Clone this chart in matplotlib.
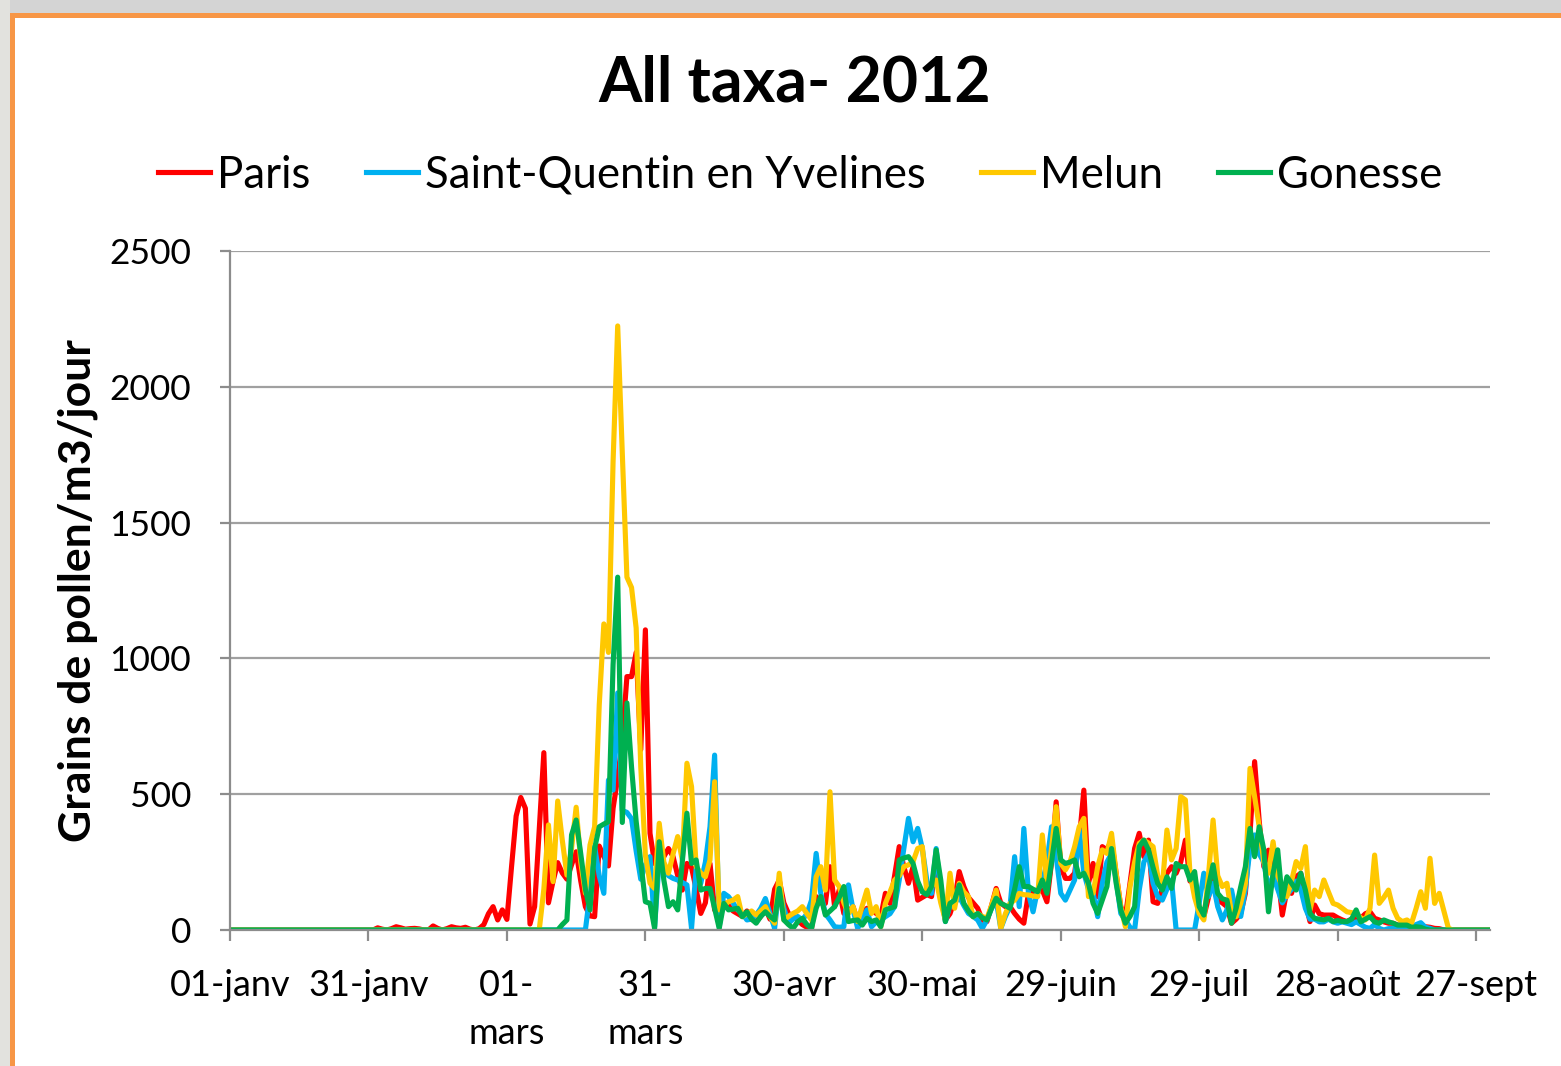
import numpy as np
import matplotlib
matplotlib.use("Agg")
import matplotlib.pyplot as plt
from matplotlib.patches import Rectangle

# ========== DATA (daily counts, 01-janv .. 30-sept 2012) ==========

paris = ([0] * 32
         + [8, 3, 0, 5, 12, 8, 3, 5, 6, 4, 0, 0, 15, 6, 0, 5, 12, 8, 6, 10, 3, 0, 5, 20]
         + [60, 86, 37, 74, 39, 233, 420, 488, 448, 22]
         + [86, 370, 653, 100, 180, 248, 210, 187, 240, 288]
         + [180, 86, 52, 49, 309, 270, 236, 448, 560, 700]
         + [933, 933, 1022, 664, 1105, 356, 245, 233, 270, 300]
         + [270, 200, 147, 245, 230, 150, 61, 100, 245, 74]
         + [130, 100, 90, 70, 60, 50, 70, 40, 30, 50, 80, 40, 150]
         + [184, 100, 61, 50, 37, 20, 10, 6, 123, 100, 98, 233]
         + [86, 147, 61, 70, 86, 31, 60, 80, 74, 61, 49, 135, 98, 200, 307, 233, 172, 233]
         + [110, 120, 130, 123, 258, 130, 37, 60, 110, 215, 160, 120]
         + [100, 80, 37, 31, 90, 153, 100, 86, 86, 61, 40, 25, 135, 135, 140, 147, 104]
         + [250, 472, 233, 190, 190, 209, 331, 515, 172, 245, 123, 307, 295]
         + [331, 209, 86, 49, 172, 300, 356, 270, 331, 104, 98, 150, 209, 233, 209, 250, 331, 180, 172]
         + [80, 49, 120, 200, 110, 100, 86, 25, 40, 61, 135, 356, 620, 400, 233, 294, 260, 209, 55, 147,
            135, 196, 209, 100]
         + [31, 92, 60, 55, 55, 55, 45, 37, 31, 40, 43, 43, 60, 67, 43, 37, 30, 25, 25, 18, 18, 18, 12,
            12, 12, 12, 10, 6, 5]
         + [0] * 11)

saint_quentin = ([0] * 78
                 + [135, 307, 200, 135, 552, 515, 873, 440, 433, 410, 291]
                 + [187, 240, 270, 12, 258, 230, 200, 190, 184, 175, 166, 6, 227, 172, 250, 380, 644, 12]
                 + [135, 123, 100, 74, 60, 37, 40, 55, 80, 116, 60, 6]
                 + [160, 80, 25, 40, 50, 37, 60, 110, 282, 135, 60, 37, 12, 10, 12, 166, 74, 6, 40, 74,
                    12, 30, 37, 49, 60, 86, 184, 300, 411, 325, 374, 300, 180, 135, 300]
                 + [135, 31, 92, 98, 123, 90, 61, 50, 37, 6, 37, 80, 110, 6, 50, 86, 270, 86, 374, 135,
                    67, 150, 172, 250, 380, 270]
                 + [135, 110, 147, 184, 368, 209, 150, 135, 49, 172, 250, 282, 184, 61, 37, 10, 0, 147,
                    250, 282, 172, 123, 110, 150, 184]
                 + [0, 0, 0, 0, 0]
                 + [100, 209, 123, 172, 86, 37, 74, 147]
                 + [60, 50, 150, 300, 350, 280, 250, 150, 200, 150, 100, 130, 150, 180, 150, 80, 40, 40,
                    30, 30, 40, 30, 25, 30, 25, 20, 30, 20, 10, 6, 20, 6, 0, 5, 6, 10, 6, 6, 10, 20, 27,
                    10, 6]
                 + [0] * 13)

melun = ([0] * 68
         + [150, 387, 178, 475, 330, 202, 300, 452, 250, 135, 313, 380]
         + [828, 1127, 1022, 1724, 2224, 1754, 1299, 1261, 1112, 600, 276, 172, 153]
         + [393, 250, 209, 280, 344, 258, 614, 528, 233, 210, 196, 258, 546, 74, 90, 104, 110, 123,
            49, 60, 70, 55, 70, 86, 50, 25]
         + [209, 37, 50, 61, 70, 86, 60, 37, 196, 233, 147, 509, 184, 160, 100, 61, 86, 31, 90, 147,
            61, 86, 12, 98, 140, 184, 200, 233, 240, 252]
         + [300, 307, 135, 160, 184, 100, 37, 209, 80, 172, 140, 123, 49, 61, 50, 43, 90, 147, 6, 60,
            98, 110, 135, 130, 129, 125, 123, 350, 172, 300, 454, 245, 221, 250, 307, 380]
         + [411, 123, 135, 233, 295, 282, 356, 209, 86, 12, 160, 250, 319, 331, 320, 307, 200, 160,
            368, 258, 300, 491, 479, 209, 120, 61, 37, 200, 405, 200]
         + [160, 172, 61, 49, 100, 172, 595, 491, 380, 250, 209, 325, 200, 160, 123, 180, 252, 227,
            307, 74, 147, 123, 184, 140, 98]
         + [92, 80, 67, 64, 61, 45, 37, 80, 276, 98, 120, 147, 80, 43, 31, 37, 25, 80, 141, 80, 264,
            98, 135, 70, 6]
         + [0] * 9)

gonesse = ([0] * 72
           + [20, 37, 350, 405, 280, 150, 74, 300, 380, 390, 399, 977, 1299, 396, 836, 600]
           + [400, 250, 104, 98, 6, 325, 184, 86, 104, 74, 250, 430, 245, 258, 147, 153, 153, 80, 6,
              98, 74, 77, 80, 49, 67, 40, 25, 50, 67, 50, 37, 153, 37, 20, 6]
           + [30, 43, 20, 6, 80, 123, 55, 70, 86, 120, 160, 31, 35, 37, 18, 43, 31, 37, 12, 74, 80,
              86, 258, 265, 270, 245, 180, 140, 130, 160]
           + [295, 184, 31, 98, 110, 166, 98, 70, 49, 61, 45, 37, 80, 117, 98, 90, 80, 150, 233, 160,
              160, 150, 141, 184, 135, 250, 374, 258, 245, 250, 258, 196]
           + [209, 172, 98, 61, 110, 160, 300, 172, 74, 25, 50, 86, 307, 331, 295, 230, 172, 147, 196,
              153, 245, 233, 233, 184, 215, 86, 55, 160, 240, 135]
           + [115, 110, 25, 80, 160, 233, 374, 270, 380, 295, 67, 209, 295, 110, 196, 172, 147, 209,
              147, 61, 43, 40, 37, 43, 31, 35, 31, 31, 40, 74, 30, 40, 49, 30, 25, 37, 30, 25, 18, 18,
              18, 10, 12, 10, 3]
           + [0] * 14)

series_names  = ["Paris", "Saint-Quentin en Yvelines", "Melun", "Gonesse"]
series_colors = ["#FF0000", "#00B0F0", "#FFC800", "#00B050"]

tick_days   = [0, 30, 60, 90, 120, 150, 180, 210, 240, 270]
tick_labels = ["01-janv", "31-janv", "01-\nmars", "31-\nmars", "30-avr",
               "30-mai", "29-juin", "29-juil", "28-août", "27-sept"]
y_ticks = [0, 500, 1000, 1500, 2000, 2500]

# ========== FIGURE ==========

W, H = 1561, 1066
plt.rcParams["font.family"] = ["Lato", "DejaVu Sans"]

fig = plt.figure(figsize=(W / 100, H / 100), dpi=100, facecolor="white")

# gray slide background strips and orange frame
fig.add_artist(Rectangle((0, 1 - 13 / H), 1, 13 / H, transform=fig.transFigure,
                         fc="#D4D4D4", ec="none"))
fig.add_artist(Rectangle((0, 0), 10 / W, 1, transform=fig.transFigure,
                         fc="#E2E2DE", ec="none"))
fig.add_artist(Rectangle((10 / W, 0), 5 / W, 1 - 13 / H, transform=fig.transFigure,
                         fc="#F79646", ec="none"))
fig.add_artist(Rectangle((10 / W, 1 - 18 / H), 1, 5 / H, transform=fig.transFigure,
                         fc="#F79646", ec="none"))

ax = fig.add_axes([230 / W, 1 - 930 / H, 1260 / W, 679 / H])

data = [paris, saint_quentin, melun, gonesse]
for vals, name, col in zip(data, series_names, series_colors):
    days = np.arange(len(vals))
    ax.plot(days, vals, color=col, lw=3.7, label=name, solid_joinstyle="round")

ax.set_xlim(0, 273)
ax.set_ylim(0, 2500)
ax.set_xticks(tick_days)
ax.set_xticklabels(tick_labels, fontsize=26, linespacing=1.56)
ax.set_yticks(y_ticks)
ax.set_yticklabels([str(v) for v in y_ticks], fontsize=25.5)

ax.yaxis.grid(True, color="#A0A0A0", lw=1.6)
ax.set_axisbelow(True)
for s in ["top", "right"]:
    ax.spines[s].set_visible(False)
for s in ["left", "bottom"]:
    ax.spines[s].set_color("#8C8C8C")
    ax.spines[s].set_linewidth(1.6)
ax.tick_params(axis="x", direction="out", length=8, width=1.6, color="#8C8C8C", pad=20)
ax.tick_params(axis="y", direction="out", length=7, width=1.6, color="#8C8C8C", pad=21)

# title, y label, legend
fig.text(795 / W, 1 - 102 / H, "All taxa- 2012", fontsize=45, fontweight="bold",
         ha="center", va="baseline")
fig.text(78 / W, 1 - 591 / H, "Grains de pollen/m3/jour", fontsize=32, fontweight="bold",
         rotation=90, ha="center", va="center")

fig.legend(loc="center", bbox_to_anchor=(800 / W, 1 - 175 / H), ncol=4, frameon=False,
           fontsize=31.5, handlelength=1.19, handletextpad=0.16, columnspacing=1.26)

fig.savefig("out.png", dpi=100)
